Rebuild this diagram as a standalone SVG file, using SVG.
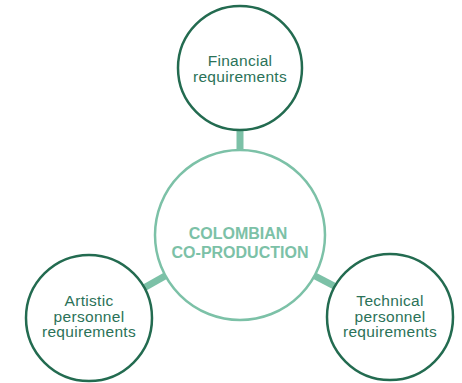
<svg xmlns="http://www.w3.org/2000/svg" width="462" height="383" viewBox="0 0 462 383">
<style>
.outer{fill:#fff;stroke:#236b50;stroke-width:2.5}
.center{fill:#fff;stroke:#7cc1a7;stroke-width:2.5}
.lbl{font-family:"Liberation Sans",Arial,sans-serif;font-size:15.5px;letter-spacing:0.3px;fill:#2b7258;text-anchor:middle}
.ctr{font-family:"Liberation Sans",Arial,sans-serif;font-size:16px;font-weight:bold;fill:#7cc1a7;text-anchor:middle}
.conn{stroke:#7cc1a7;stroke-width:7;fill:none}
</style>
<rect width="462" height="383" fill="#fff"/>
<g id="connectors">
<line class="conn" x1="240" y1="130" x2="240" y2="151"/>
<line class="conn" x1="142" y1="289" x2="165" y2="276"/>
<line class="conn" x1="315" y1="276" x2="338" y2="288"/>
</g>
<g id="center">
<circle class="center" cx="240" cy="235" r="85"/>
<text class="ctr" x="238" y="239">COLOMBIAN</text>
<text class="ctr" x="240" y="258">CO-PRODUCTION</text>
</g>
<g id="financial">
<circle class="outer" cx="240" cy="68" r="62"/>
<text class="lbl" x="240" y="66">Financial</text>
<text class="lbl" x="240" y="82">requirements</text>
</g>
<g id="artistic">
<circle class="outer" cx="89" cy="318" r="63"/>
<text class="lbl" x="89" y="306">Artistic</text>
<text class="lbl" x="89" y="321.5">personnel</text>
<text class="lbl" x="89" y="337">requirements</text>
</g>
<g id="technical">
<circle class="outer" cx="390" cy="317" r="63"/>
<text class="lbl" x="390" y="306">Technical</text>
<text class="lbl" x="390" y="321.5">personnel</text>
<text class="lbl" x="390" y="337">requirements</text>
</g>
</svg>
